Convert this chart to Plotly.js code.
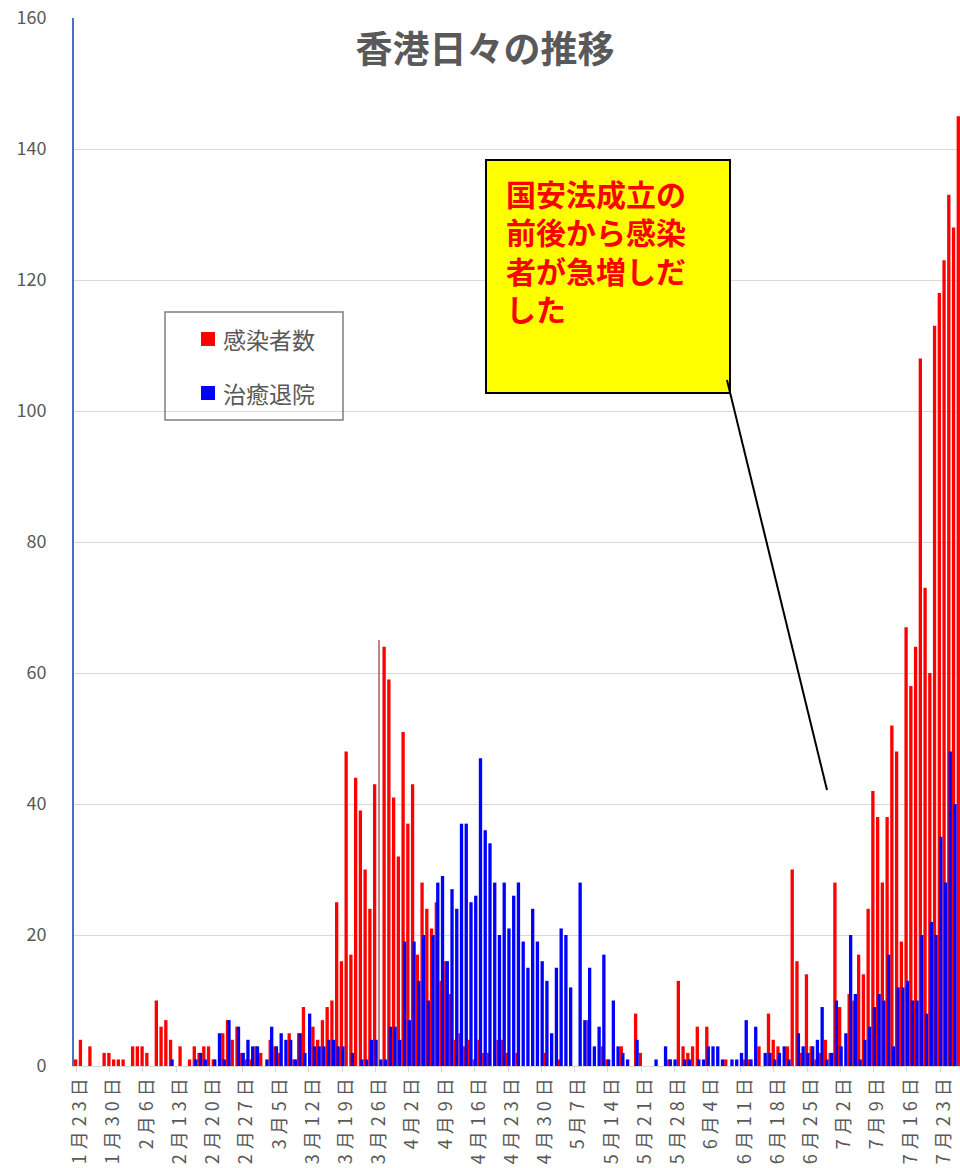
<!DOCTYPE html>
<html>
<head>
<meta charset="utf-8">
<script src="https://cdn.plot.ly/plotly-3.0.1.min.js"></script>
<style>
html,body{margin:0;padding:0;background:#fff;}
#chart{width:960px;height:1168px;}
#chart .xtick text{letter-spacing:5px;}
</style>
</head>
<body>
<div id="chart"></div>
<script>
// Categories: consecutive days 2020-01-23 .. 2020-07-27
const dates = [
 '2020-01-23','2020-01-24','2020-01-25','2020-01-26','2020-01-27','2020-01-28','2020-01-29','2020-01-30','2020-01-31',
 '2020-02-01','2020-02-02','2020-02-03','2020-02-04','2020-02-05','2020-02-06','2020-02-07','2020-02-08','2020-02-09','2020-02-10',
 '2020-02-11','2020-02-12','2020-02-13','2020-02-14','2020-02-15','2020-02-16','2020-02-17','2020-02-18','2020-02-19','2020-02-20',
 '2020-02-21','2020-02-22','2020-02-23','2020-02-24','2020-02-25','2020-02-26','2020-02-27','2020-02-28','2020-02-29',
 '2020-03-01','2020-03-02','2020-03-03','2020-03-04','2020-03-05','2020-03-06','2020-03-07','2020-03-08','2020-03-09','2020-03-10',
 '2020-03-11','2020-03-12','2020-03-13','2020-03-14','2020-03-15','2020-03-16','2020-03-17','2020-03-18','2020-03-19','2020-03-20',
 '2020-03-21','2020-03-22','2020-03-23','2020-03-24','2020-03-25','2020-03-26','2020-03-27','2020-03-28','2020-03-29','2020-03-30','2020-03-31',
 '2020-04-01','2020-04-02','2020-04-03','2020-04-04','2020-04-05','2020-04-06','2020-04-07','2020-04-08','2020-04-09','2020-04-10',
 '2020-04-11','2020-04-12','2020-04-13','2020-04-14','2020-04-15','2020-04-16','2020-04-17','2020-04-18','2020-04-19','2020-04-20',
 '2020-04-21','2020-04-22','2020-04-23','2020-04-24','2020-04-25','2020-04-26','2020-04-27','2020-04-28','2020-04-29','2020-04-30',
 '2020-05-01','2020-05-02','2020-05-03','2020-05-04','2020-05-05','2020-05-06','2020-05-07','2020-05-08','2020-05-09','2020-05-10',
 '2020-05-11','2020-05-12','2020-05-13','2020-05-14','2020-05-15','2020-05-16','2020-05-17','2020-05-18','2020-05-19','2020-05-20',
 '2020-05-21','2020-05-22','2020-05-23','2020-05-24','2020-05-25','2020-05-26','2020-05-27','2020-05-28','2020-05-29','2020-05-30','2020-05-31',
 '2020-06-01','2020-06-02','2020-06-03','2020-06-04','2020-06-05','2020-06-06','2020-06-07','2020-06-08','2020-06-09','2020-06-10',
 '2020-06-11','2020-06-12','2020-06-13','2020-06-14','2020-06-15','2020-06-16','2020-06-17','2020-06-18','2020-06-19','2020-06-20',
 '2020-06-21','2020-06-22','2020-06-23','2020-06-24','2020-06-25','2020-06-26','2020-06-27','2020-06-28','2020-06-29','2020-06-30',
 '2020-07-01','2020-07-02','2020-07-03','2020-07-04','2020-07-05','2020-07-06','2020-07-07','2020-07-08','2020-07-09','2020-07-10',
 '2020-07-11','2020-07-12','2020-07-13','2020-07-14','2020-07-15','2020-07-16','2020-07-17','2020-07-18','2020-07-19','2020-07-20',
 '2020-07-21','2020-07-22','2020-07-23','2020-07-24','2020-07-25','2020-07-26','2020-07-27'
];

// 感染者数 (daily new infections)
const infected = [
 1,4,0,3,0,0,2,2,1,1,
 1,0,3,3,3,2,0,10,6,7,
 4,0,3,0,1,3,2,3,3,1,
 0,5,7,4,6,2,1,1,3,2,
 0,4,3,2,0,5,1,5,9,0,
 6,4,7,9,10,25,16,48,17,44,
 39,30,24,43,0,64,59,41,32,51,
 37,43,17,28,24,21,25,13,16,11,
 4,5,3,4,1,4,2,2,0,4,
 4,2,0,2,0,0,0,0,0,2,
 0,0,1,0,0,0,0,0,7,0,
 0,3,1,0,0,3,0,0,8,2,
 0,0,0,0,0,1,0,13,3,2,
 3,6,0,6,0,0,0,1,0,0,
 0,1,1,0,3,0,8,4,3,0,
 3,30,16,2,14,3,1,2,4,2,
 28,9,0,11,10,17,14,24,42,38,
 28,38,52,48,19,67,58,64,108,73,
 60,113,118,123,133,128,145
];

// 治癒退院 (daily recoveries / discharges)
const recovered = [
 0,0,0,0,0,0,0,0,0,0,
 0,0,0,0,0,0,0,0,0,0,
 1,0,0,0,0,1,2,1,0,1,
 5,1,7,0,6,2,4,3,3,0,
 1,6,3,5,4,4,1,5,2,8,
 3,3,3,4,4,3,3,0,2,0,
 1,1,4,4,1,1,6,6,4,19,
 7,19,13,20,10,20,28,29,16,27,
 24,37,37,25,26,47,36,34,28,20,
 28,21,26,28,19,15,24,19,16,13,
 5,15,21,20,12,0,28,7,15,3,
 6,17,1,10,3,2,1,0,4,0,
 0,0,1,0,3,1,1,0,1,1,
 0,1,1,3,3,3,1,0,1,1,
 2,7,1,6,0,2,2,1,2,3,
 1,0,5,3,2,3,4,9,1,2,
 10,3,5,20,11,1,4,6,9,11,
 10,17,3,12,12,13,10,10,20,8,
 22,20,35,28,48,40,0
];

// Weekly tick positions and labels
const tickDates = [
 '2020-01-23','2020-01-30','2020-02-06','2020-02-13','2020-02-20','2020-02-27',
 '2020-03-05','2020-03-12','2020-03-19','2020-03-26','2020-04-02','2020-04-09',
 '2020-04-16','2020-04-23','2020-04-30','2020-05-07','2020-05-14','2020-05-21',
 '2020-05-28','2020-06-04','2020-06-11','2020-06-18','2020-06-25','2020-07-02',
 '2020-07-09','2020-07-16','2020-07-23'
];
const tickLabels = [
 '1月23日','1月30日','2月6日','2月13日','2月20日','2月27日',
 '3月5日','3月12日','3月19日','3月26日','4月2日','4月9日',
 '4月16日','4月23日','4月30日','5月7日','5月14日','5月21日',
 '5月28日','6月4日','6月11日','6月18日','6月25日','7月2日',
 '7月9日','7月16日','7月23日'
];
const seriesNames = ['感染者数','治癒退院'];
const titleText = '香港日々の推移';
const noteLines = ['国安法成立の','前後から感染','者が急増しだ','した'];

const DAY = 86400000;
const FONT = '"Noto Sans CJK JP", "Noto Sans", sans-serif';
const GRAY = '#595959';

// pixel helpers (plot area: x 74..960, y 18..1066)
const L = 74, R = 960, T = 18, B = 1066;
const px = x => (x - L) / (R - L);
const py = y => (B - y) / (B - T);

const traces = [
 {type:'bar', name:seriesNames[0], x:dates, y:infected,
  marker:{color:'#FF0000'}, width:0.7*DAY, offset:-0.5*DAY, showlegend:false},
 {type:'bar', name:seriesNames[1], x:dates, y:recovered,
  marker:{color:'#0000FF'}, width:0.7*DAY, offset:-0.19*DAY, showlegend:false}
];

const noteAnnotations = noteLines.map((t, i) => ({
 xref:'paper', yref:'paper', x:px(505), y:py(193 + i*38.4), xanchor:'left', yanchor:'middle',
 align:'left', text:'<b>'+t+'</b>', showarrow:false, borderpad:0,
 font:{family:FONT, size:30, color:'#FF0000'}
}));

const layout = {
 width:960, height:1168,
 margin:{l:L, r:960-R, t:T, b:1168-B, pad:0},
 paper_bgcolor:'#ffffff', plot_bgcolor:'#ffffff',
 barmode:'overlay',
 font:{family:FONT, color:GRAY},
 title:{text:'<b>'+titleText+'</b>', font:{family:FONT, size:37, color:GRAY},
        x:485/960, xref:'container', xanchor:'center',
        y:1-50/1168, yref:'container', yanchor:'middle'},
 xaxis:{type:'date', range:['2020-01-22 12:00','2020-07-27 05:00'],
        tickmode:'array', tickvals:tickDates, ticktext:tickLabels,
        tickangle:-90, ticks:'outside', ticklen:5, tickcolor:'#d9d9d9',
        showline:true, linecolor:'#d9d9d9', linewidth:1,
        showgrid:false, zeroline:false, ticklabelshift:4, ticklabelstandoff:-6,
        tickfont:{family:FONT, size:18, color:GRAY}},
 yaxis:{range:[0,160], dtick:20, tick0:0, showgrid:true, gridcolor:'#d9d9d9', gridwidth:1,
        showline:true, linecolor:'#4472C4', linewidth:2, zeroline:false,
        ticks:'', ticklabelstandoff:22,
        tickfont:{family:FONT, size:18, color:GRAY}},
 shapes:[
  // legend frame
  {type:'rect', xref:'paper', yref:'paper', x0:px(165), x1:px(343), y0:py(312), y1:py(420),
   line:{color:'#7f7f7f', width:1.5}, fillcolor:'rgba(0,0,0,0)'},
  {type:'rect', xref:'paper', yref:'paper', x0:px(201), x1:px(215), y0:py(332), y1:py(346),
   line:{width:0}, fillcolor:'#FF0000'},
  {type:'rect', xref:'paper', yref:'paper', x0:px(201), x1:px(215), y0:py(386), y1:py(400),
   line:{width:0}, fillcolor:'#0000FF'},
  // thin vertical marker line
  {type:'line', xref:'paper', yref:'paper', x0:px(379), x1:px(379), y0:py(640), y1:py(1066),
   line:{color:'#7a1010', width:1}},
  // callout box
  {type:'rect', xref:'paper', yref:'paper', x0:px(486), x1:px(730), y0:py(160), y1:py(393),
   line:{color:'#000000', width:2}, fillcolor:'#FFFF00'},
  // callout pointer
  {type:'line', xref:'paper', yref:'paper', x0:px(727), y0:py(380), x1:px(827), y1:py(790),
   line:{color:'#000000', width:2}}
 ],
 annotations:[
  {xref:'paper', yref:'paper', x:px(221), y:py(339), xanchor:'left', yanchor:'middle',
   text:seriesNames[0], showarrow:false, font:{family:FONT, size:23, color:GRAY}},
  {xref:'paper', yref:'paper', x:px(221), y:py(393), xanchor:'left', yanchor:'middle',
   text:seriesNames[1], showarrow:false, font:{family:FONT, size:23, color:GRAY}}
 ].concat(noteAnnotations)
};

Plotly.newPlot('chart', traces, layout, {displayModeBar:false, staticPlot:true});
</script>
</body>
</html>
